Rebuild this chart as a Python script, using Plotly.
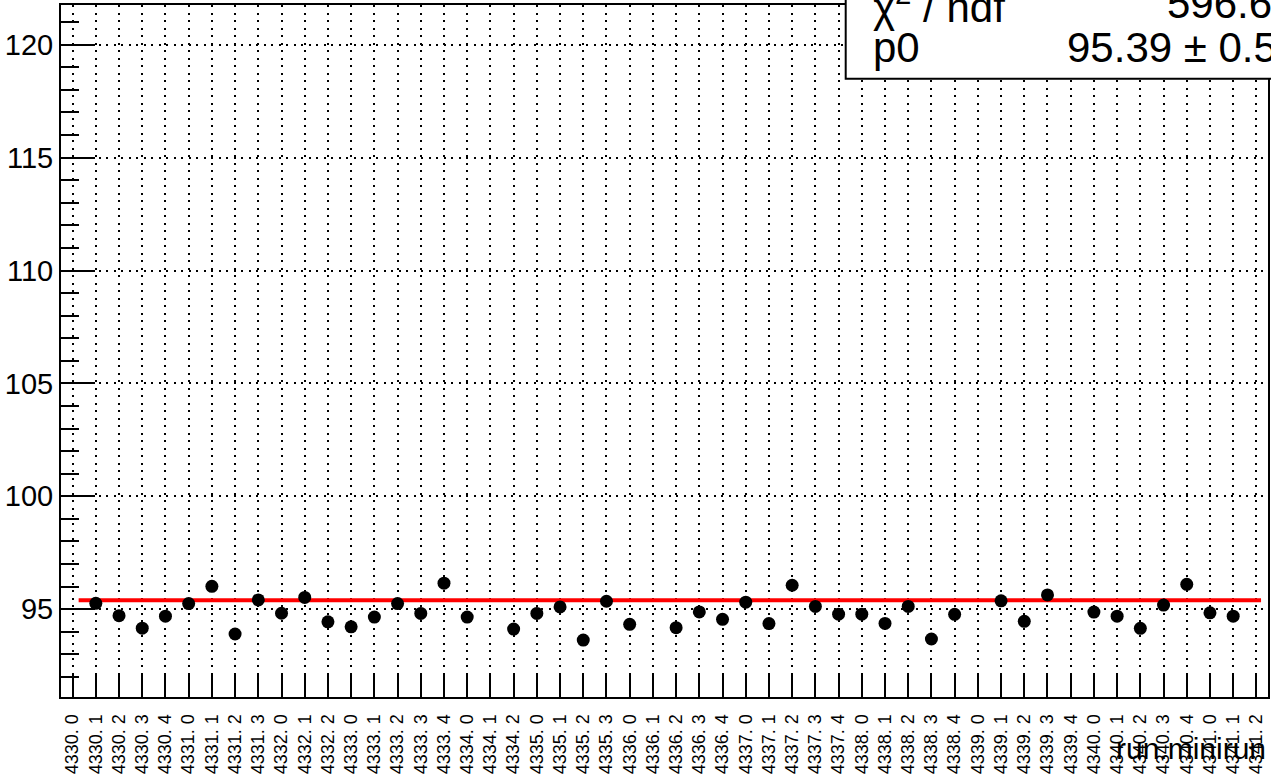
import plotly.graph_objects as go

# Run / minirun bin labels along the x axis
run_labels = [
    "4330. 0", "4330. 1", "4330. 2", "4330. 3", "4330. 4",
    "4331. 0", "4331. 1", "4331. 2", "4331. 3",
    "4332. 0", "4332. 1", "4332. 2",
    "4333. 0", "4333. 1", "4333. 2", "4333. 3", "4333. 4",
    "4334. 0", "4334. 1", "4334. 2",
    "4335. 0", "4335. 1", "4335. 2", "4335. 3",
    "4336. 0", "4336. 1", "4336. 2", "4336. 3", "4336. 4",
    "4337. 0", "4337. 1", "4337. 2", "4337. 3", "4337. 4",
    "4338. 0", "4338. 1", "4338. 2", "4338. 3", "4338. 4",
    "4339. 0", "4339. 1", "4339. 2", "4339. 3", "4339. 4",
    "4340. 0", "4340. 1", "4340. 2", "4340. 3", "4340. 4",
    "4341. 0", "4341. 1", "4341. 2",
]

# Measured value per minirun (None = empty bin)
values = [
    None, 95.26, 94.71, 94.16, 94.69,
    95.25, 96.01, 93.90, 95.41,
    94.82, 95.52, 94.44,
    94.22, 94.65, 95.25, 94.81, 96.15,
    94.65, None, 94.12,
    94.81, 95.10, 93.63, 95.35,
    94.33, None, 94.18, 94.88, 94.55,
    95.31, 94.36, 96.06, 95.12, 94.78,
    94.78, 94.37, 95.12, 93.68, 94.77,
    None, 95.37, 94.46, 95.63, None,
    94.87, 94.69, 94.15, 95.18, 96.10,
    94.84, 94.69, None,
]

# pol0 fit result
fit_p0 = 95.39
fit_p0_err = "0.55"
fit_chi2_ndf = "596.6 / 45"
fit_x_range = [0.26, 51.2]

y_major_ticks = [95, 100, 105, 110, 115, 120]

FONT = "Liberation Sans, Arial, Helvetica, sans-serif"
W, H = 1271, 775
ML, MR, MT, MB = 61, 1, 5, 75
PW, PH = W - ML - MR, H - MT - MB


def px_x(px):
    return (px - ML) / PW


def px_y(py):
    return (H - MB - py) / PH


idx = list(range(len(run_labels)))

fig = go.Figure()

fig.add_trace(go.Scatter(
    x=fit_x_range, y=[fit_p0, fit_p0], mode="lines",
    line=dict(color="#ff0000", width=4), hoverinfo="skip", showlegend=False,
))

fig.add_trace(go.Scatter(
    x=idx, y=values, mode="markers",
    marker=dict(color="black", size=13, symbol="circle"),
    showlegend=False,
))

grid_dash = "2px,5.5px"

fig.update_xaxes(
    range=[-0.5, len(run_labels) - 0.5],
    tickmode="array", tickvals=idx, ticktext=run_labels,
    tickangle=-90,
    tickfont=dict(family=FONT, size=18, color="black"),
    ticks="inside", ticklen=22, tickwidth=2, tickcolor="black",
    ticklabelstandoff=8,
    showline=True, linecolor="black", linewidth=2, mirror=True,
    showgrid=True, gridcolor="black", gridwidth=2, griddash=grid_dash,
    zeroline=False,
)

fig.update_yaxes(
    range=[91.11, 121.76],
    tickmode="array", tickvals=y_major_ticks,
    ticktext=[str(v) for v in y_major_ticks],
    tickfont=dict(family=FONT, size=29, color="black"),
    ticks="inside", ticklen=34, tickwidth=2, tickcolor="black",
    minor=dict(dtick=1, tick0=0, ticks="inside", ticklen=18,
               tickwidth=2, tickcolor="black", showgrid=False),
    ticklabelstandoff=0,
    showline=True, linecolor="black", linewidth=2, mirror=True,
    showgrid=True, gridcolor="black", gridwidth=2, griddash=grid_dash,
    zeroline=False,
)

# Fit statistics box
fig.add_shape(
    type="rect", xref="paper", yref="paper", layer="above",
    x0=px_x(847), x1=px_x(1400), y0=px_y(79), y1=px_y(-100),
    fillcolor="white", line=dict(color="black", width=2),
)

stat_font = dict(family=FONT, size=42, color="black")
fig.add_annotation(
    xref="paper", yref="paper", x=px_x(872), y=px_y(4),
    xanchor="left", yanchor="middle", showarrow=False,
    text="χ<sup>2</sup> / ndf", font=stat_font,
)
fig.add_annotation(
    xref="paper", yref="paper", x=px_x(1167), y=px_y(3),
    xanchor="left", yanchor="middle", showarrow=False,
    text=fit_chi2_ndf, font=stat_font,
)
fig.add_annotation(
    xref="paper", yref="paper", x=px_x(872), y=px_y(48),
    xanchor="left", yanchor="middle", showarrow=False,
    text="p0", font=stat_font,
)
fig.add_annotation(
    xref="paper", yref="paper", x=px_x(1067), y=px_y(48),
    xanchor="left", yanchor="middle", showarrow=False,
    text=f"{fit_p0:.2f} ± {fit_p0_err}", font=stat_font,
)

# X axis title
fig.add_annotation(
    xref="paper", yref="paper", x=px_x(1270), y=px_y(752),
    xanchor="right", yanchor="middle", showarrow=False,
    text="run.minirun", font=dict(family=FONT, size=30, color="black"),
)

fig.update_layout(
    width=W, height=H,
    margin=dict(l=ML, r=MR, t=MT, b=MB, pad=0),
    paper_bgcolor="white", plot_bgcolor="white",
    showlegend=False,
)

fig.write_html("out.html")
